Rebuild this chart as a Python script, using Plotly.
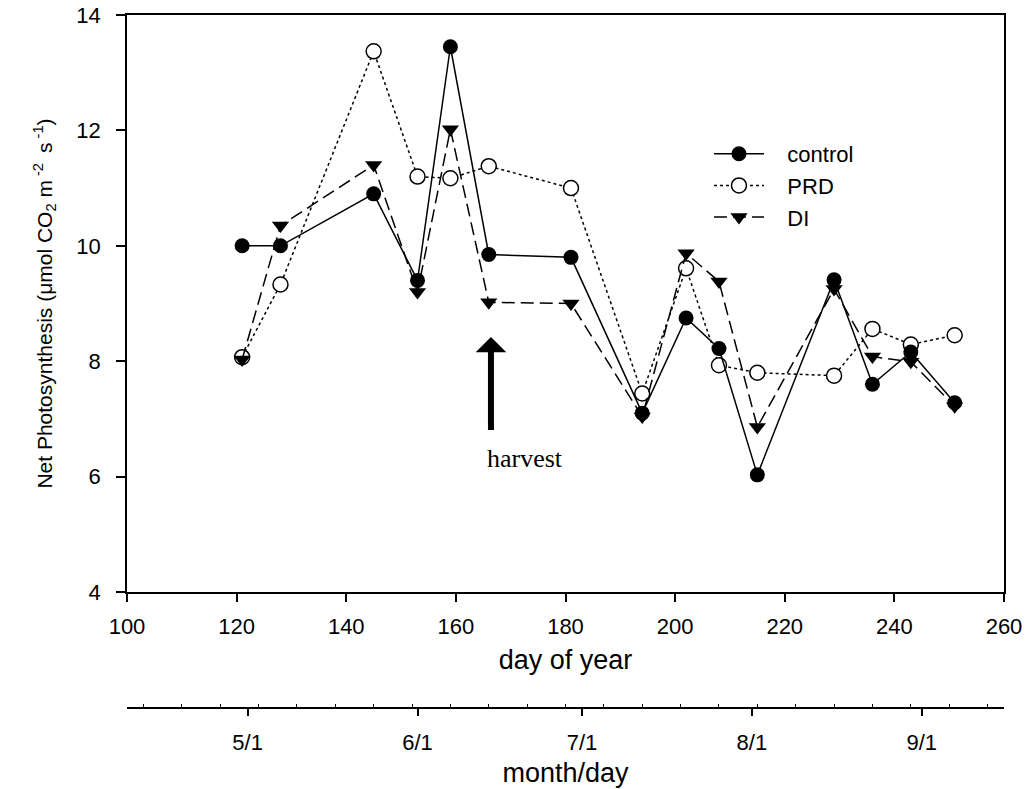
import plotly.graph_objects as go

days = [121, 128, 145, 153, 159, 166, 181, 194, 202, 208, 215, 229, 236, 243, 251]
control = [10.0, 10.0, 10.9, 9.4, 13.45, 9.85, 9.8, 7.1, 8.75, 8.22, 6.03, 9.41, 7.6, 8.16, 7.28]
prd = [8.07, 9.33, 13.37, 11.2, 11.17, 11.38, 11.0, 7.44, 9.61, 7.93, 7.8, 7.75, 8.56, 8.29, 8.45]
di = [8.03, 10.35, 11.4, 9.2, 12.02, 9.02, 9.0, 7.04, 9.87, 9.38, 6.86, 9.25, 8.08, 7.99, 7.22]

month_days = [122, 153, 183, 214, 245]
month_labels = ["5/1", "6/1", "7/1", "8/1", "9/1"]

harvest_day = 166.4
harvest_tip = 8.42
harvest_tail = 6.78
harvest_label_y = 6.32

FONT = "Liberation Sans, Arial, sans-serif"
PAD = "\u00a0\u00a0\u00a0"

fig = go.Figure()
fig.add_trace(go.Scatter(
    x=days, y=prd, name=PAD + "PRD", mode="lines+markers", legendrank=2,
    line=dict(color="black", width=1.5, dash="dot"),
    marker=dict(symbol="circle", size=15, color="white", line=dict(color="black", width=1.5)),
))
fig.add_trace(go.Scatter(
    x=days, y=di, name=PAD + "DI", mode="lines+markers", legendrank=3,
    line=dict(color="black", width=1.5, dash="13px,6px"),
    marker=dict(symbol="triangle-down", size=15, color="black"),
))
fig.add_trace(go.Scatter(
    x=days, y=control, name=PAD + "control", mode="lines+markers", legendrank=1,
    line=dict(color="black", width=1.5),
    marker=dict(symbol="circle", size=15, color="black"),
))
# empty trace so the month/day axis is drawn
fig.add_trace(go.Scatter(x=[], y=[], xaxis="x2", yaxis="y", showlegend=False))

fig.add_annotation(
    x=harvest_day, y=harvest_tip, ax=harvest_day, ay=harvest_tail,
    xref="x", yref="y", axref="x", ayref="y",
    text="", showarrow=True, arrowhead=1, arrowsize=0.85, arrowwidth=6,
    arrowcolor="black",
)
fig.add_annotation(
    x=harvest_day - 1.0, y=harvest_label_y, xref="x", yref="y",
    xanchor="left", yanchor="middle",
    text="harvest", showarrow=False,
    font=dict(family="Liberation Serif, Times New Roman, serif", size=26, color="black"),
)

fig.update_layout(
    width=1026, height=789,
    margin=dict(l=127, r=22, t=15, b=69, autoexpand=False),
    paper_bgcolor="white", plot_bgcolor="white",
    font=dict(family=FONT, color="black"),
    showlegend=True,
    legend=dict(
        x=0.6636, y=0.8326, xanchor="left", yanchor="top",
        font=dict(family=FONT, size=22, color="black"),
        bgcolor="rgba(0,0,0,0)", itemwidth=50, tracegroupgap=0,
    ),
    xaxis=dict(
        range=[100, 260], domain=[0, 1], anchor="y", automargin=False,
        tickmode="array", tickvals=[100, 120, 140, 160, 180, 200, 220, 240, 260],
        ticks="outside", ticklen=8, tickwidth=1.5, tickcolor="black",
        showline=True, linewidth=1.5, linecolor="black", mirror=True,
        showgrid=False, zeroline=False,
        tickfont=dict(size=22), ticklabelstandoff=6,
        title=dict(text="day of year", font=dict(size=27), standoff=12),
    ),
    xaxis2=dict(
        range=[100, 260], overlaying="x", anchor="free", position=0.01745, side="bottom",
        automargin=False,
        tickmode="array", tickvals=month_days, ticktext=month_labels,
        ticks="outside", ticklen=8, tickwidth=1.5, tickcolor="black",
        minor=dict(ticks="inside", ticklen=3, tickwidth=1, tickcolor="black",
                   tick0=103, dtick=7, showgrid=False),
        showline=True, linewidth=1.5, linecolor="black",
        showgrid=False, zeroline=False,
        tickfont=dict(size=22), ticklabelstandoff=7,
        title=dict(text="month/day", font=dict(size=27), standoff=8),
    ),
    yaxis=dict(
        range=[4, 14], domain=[0.18156, 1], automargin=False,
        tickmode="array", tickvals=[4, 6, 8, 10, 12, 14],
        ticks="outside", ticklen=9, tickwidth=1.5, tickcolor="black",
        showline=True, linewidth=1.5, linecolor="black", mirror=True,
        showgrid=False, zeroline=False,
        tickfont=dict(size=22), ticklabelstandoff=11,
        title=dict(text="Net Photosynthesis (\u03bcmol CO<sub>2</sub> m<sup> -2 </sup> s<sup> -1</sup>)",
                   font=dict(size=21), standoff=18),
    ),
)

fig.write_html("out.html")
